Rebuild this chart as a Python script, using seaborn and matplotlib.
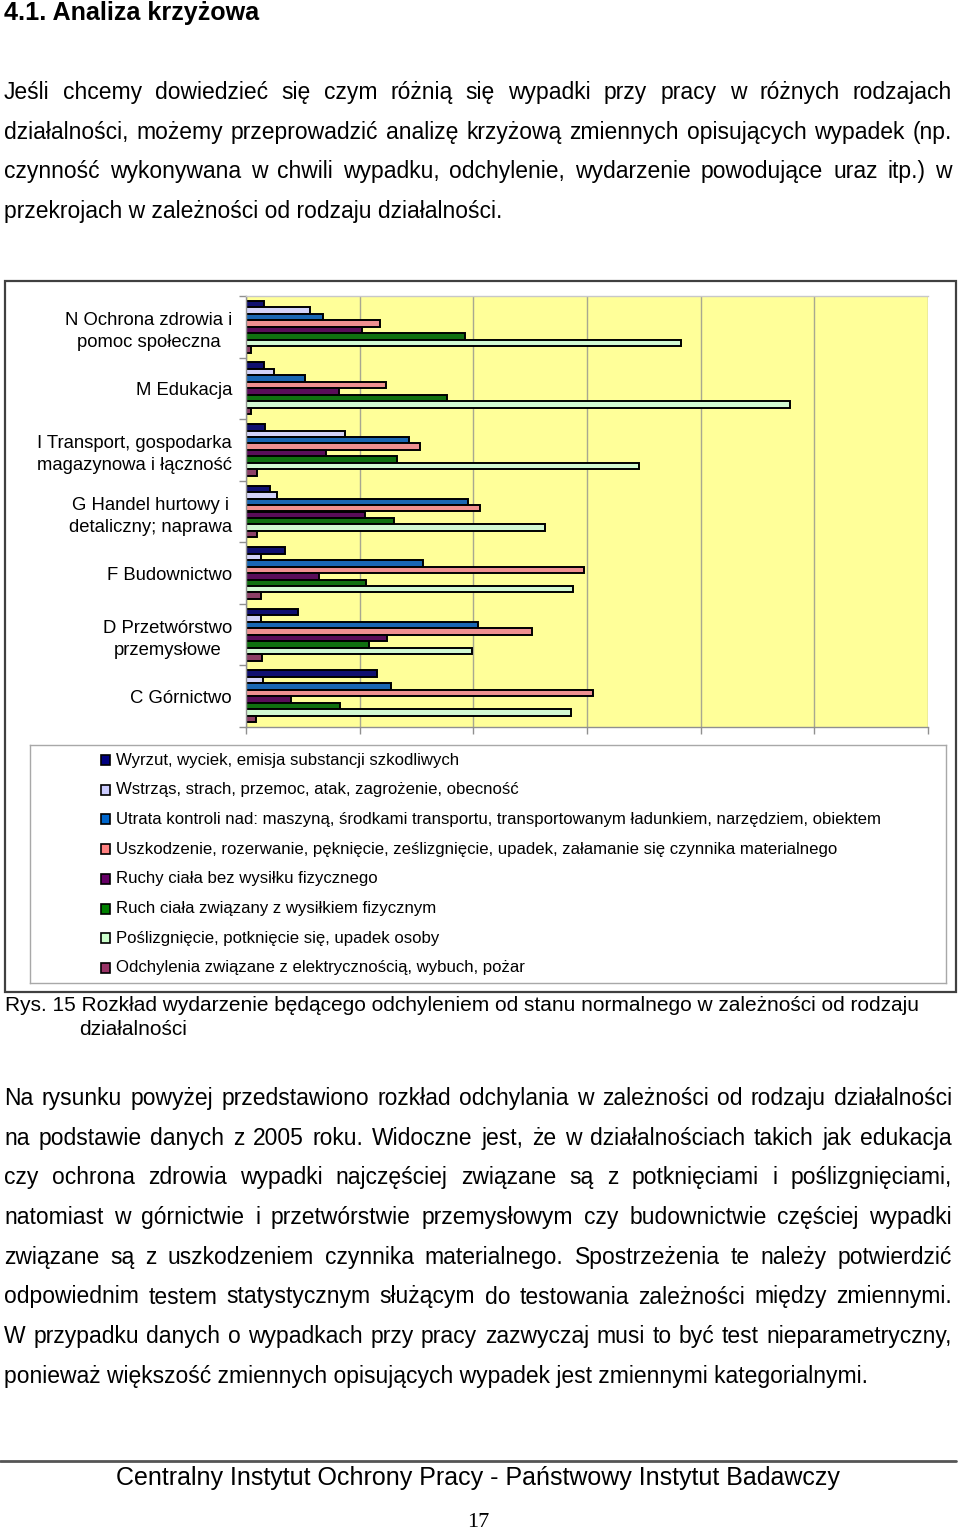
import matplotlib
matplotlib.use('Agg')
import matplotlib.pyplot as plt
from matplotlib.patches import Rectangle
from matplotlib.lines import Line2D
from matplotlib.ticker import FixedLocator, FuncFormatter
import pandas as pd
import seaborn as sns

# Data (percent of accidents per branch)
branches = [
    'N Ochrona zdrowia i\npomoc społeczna',
    'M Edukacja',
    'I Transport, gospodarka\nmagazynowa i łączność',
    'G Handel hurtowy i\ndetaliczny; naprawa',
    'F Budownictwo',
    'D Przetwórstwo\nprzemysłowe',
    'C Górnictwo',
]
series = [
    'Wyrzut, wyciek, emisja substancji szkodliwych',
    'Wstrząs, strach, przemoc, atak, zagrożenie, obecność',
    'Utrata kontroli nad: maszyną, środkami transportu, transportowanym ładunkiem, narzędziem, obiektem',
    'Uszkodzenie, rozerwanie, pęknięcie, ześlizgnięcie, upadek, załamanie się czynnika materialnego',
    'Ruchy ciała bez wysiłku fizycznego',
    'Ruch ciała związany z wysiłkiem fizycznym',
    'Poślizgnięcie, potknięcie się, upadek osoby',
    'Odchylenia związane z elektrycznością, wybuch, pożar',
]
wyrzut = [1.6, 1.6, 1.7, 2.1, 3.4, 4.6, 11.5]
wstrzas = [5.6, 2.5, 8.7, 2.7, 1.3, 1.3, 1.5]
utrata = [6.8, 5.2, 14.3, 19.5, 15.6, 20.4, 12.8]
uszkodzenie = [11.8, 12.3, 15.3, 20.6, 29.7, 25.2, 30.5]
ruchy = [10.2, 8.2, 7.0, 10.5, 6.4, 12.4, 4.0]
ruch_wysilek = [19.3, 17.7, 13.3, 13.0, 10.6, 10.8, 8.3]
poslizgniecie = [38.3, 47.9, 34.6, 26.3, 28.8, 19.9, 28.6]
elektr = [0.4, 0.4, 1.0, 1.0, 1.3, 1.4, 0.9]
x_ticks = [0, 10, 20, 30, 40, 50, 60]

colors = ['#000080', '#CCCCFF', '#0066CC', '#FF8080',
          '#660066', '#008000', '#CCFFCC', '#993366']

heading = '4.1. Analiza krzyżowa'
para1 = [
    'Jeśli chcemy dowiedzieć się czym różnią się wypadki przy pracy w różnych rodzajach',
    'działalności, możemy przeprowadzić analizę krzyżową zmiennych opisujących wypadek (np.',
    'czynność wykonywana w chwili wypadku, odchylenie, wydarzenie powodujące uraz itp.) w',
    'przekrojach w zależności od rodzaju działalności.',
]
para2 = [
    'Na rysunku powyżej przedstawiono rozkład odchylania w zależności od rodzaju działalności',
    'na podstawie danych z 2005 roku. Widoczne jest, że w działalnościach takich jak edukacja',
    'czy ochrona zdrowia wypadki najczęściej związane są z potknięciami i poślizgnięciami,',
    'natomiast w górnictwie i przetwórstwie przemysłowym czy budownictwie częściej wypadki',
    'związane są z uszkodzeniem czynnika materialnego. Spostrzeżenia te należy potwierdzić',
    'odpowiednim testem statystycznym służącym do testowania zależności między zmiennymi.',
    'W przypadku danych o wypadkach przy pracy zazwyczaj musi to być test nieparametryczny,',
    'ponieważ większość zmiennych opisujących wypadek jest zmiennymi kategorialnymi.',
]
caption1 = 'Rys. 15 Rozkład wydarzenie będącego odchyleniem od stanu normalnego w zależności od rodzaju'
caption2 = 'działalności'
footer = 'Centralny Instytut Ochrony Pracy - Państwowy Instytut Badawczy'
page_no = '17'

values = [wyrzut, wstrzas, utrata, uszkodzenie, ruchy, ruch_wysilek, poslizgniecie, elektr]
rows = []
for s, vals in zip(series, values):
    for b, v in zip(branches, vals):
        rows.append({'branch': b, 'series': s, 'value': v})
df = pd.DataFrame(rows)

sns.set_theme(style='white')
plt.rcParams['font.family'] = ['Liberation Sans', 'DejaVu Sans']
plt.rcParams['text.color'] = 'black'
plt.rcParams['xtick.color'] = 'black'
plt.rcParams['ytick.color'] = 'black'
plt.rcParams['axes.labelcolor'] = 'black'

W, H = 960, 1530
fig = plt.figure(figsize=(W / 100, H / 100), dpi=100)
fig.patch.set_facecolor('white')
renderer = fig.canvas.get_renderer()


def fy(y):
    return 1 - y / H


def fit_size(text, target, **kw):
    t = fig.text(0, 0, text, fontsize=10, **kw)
    w = t.get_window_extent(renderer).width
    t.remove()
    return 10 * target / w


def justify(line, y, x0, x1, size):
    words = line.split(' ')
    ts = [fig.text(0, fy(y), w, fontsize=size, va='baseline', color='black') for w in words]
    widths = [t.get_window_extent(renderer).width for t in ts]
    gap = (x1 - x0 - sum(widths)) / (len(words) - 1)
    x = x0
    for t, w in zip(ts, widths):
        t.set_x(x / W)
        x += w + gap


# ---- page text ----
hsize = fit_size(heading, 254, fontweight='bold')
fig.text(4 / W, fy(20), heading, fontsize=hsize, fontweight='bold', va='baseline')

body = fit_size(para2[-1], 867)
for i, line in enumerate(para1):
    y = 99 + i * 39.7
    if i < len(para1) - 1:
        justify(line, y, 4, 952, body)
    else:
        fig.text(4 / W, fy(y), line, fontsize=body, va='baseline')

for i, line in enumerate(para2):
    y = 1105 + i * 39.7
    if i < len(para2) - 1:
        justify(line, y, 4, 952, body)
    else:
        fig.text(4 / W, fy(y), line, fontsize=body, va='baseline')

csize = fit_size(caption1, 913)
fig.text(5 / W, fy(1011), caption1, fontsize=csize, va='baseline')
fig.text(79 / W, fy(1035), caption2, fontsize=csize, va='baseline')

fig.add_artist(Line2D([0, 956 / W], [fy(1461), fy(1461)], color='#555555', lw=2))
fsize = fit_size(footer, 725)
fig.text(478 / W, fy(1485), footer, fontsize=fsize, ha='center', va='baseline')
fig.text(478 / W, fy(1527), page_no, fontsize=16, ha='center', va='baseline',
         family='Liberation Serif')

# ---- chart frame ----
fig.add_artist(Rectangle((5 / W, fy(992)), 951 / W, 711 / H, transform=fig.transFigure,
                         fill=False, edgecolor='#404040', lw=1.6))

# ---- bar chart ----
ax = fig.add_axes([246 / W, fy(727), 682 / W, 431 / H])
ax.set_facecolor('#FFFF99')
sns.barplot(data=df, x='value', y='branch', hue='series', order=branches,
            hue_order=series, palette=colors, orient='h', width=0.84,
            edgecolor='black', linewidth=1.4, legend=False, ax=ax)
ax.set_xlim(0, 60)
ax.set_xticks(x_ticks)
ax.xaxis.set_major_formatter(FuncFormatter(lambda v, p: f'{v:.0f}%'))
ax.set_axisbelow(True)
ax.grid(axis='x', color='#A8A890', lw=1)
ax.grid(axis='y', visible=False)
ax.set_xlabel('')
ax.set_ylabel('')
for sp in ax.spines.values():
    sp.set_color('#909090')
    sp.set_linewidth(1)
ax.spines['right'].set_visible(False)
ax.spines['top'].set_color('#C8C8C8')

lab_size = fit_size('M Edukacja', 97)
ax.tick_params(axis='y', which='major', length=0, pad=10, labelsize=lab_size)
ax.tick_params(axis='x', which='major', length=5, width=1, color='#909090',
               direction='out', pad=11, labelsize=lab_size, bottom=True)
ax.yaxis.set_minor_locator(FixedLocator([i - 0.5 for i in range(len(branches) + 1)]))
ax.tick_params(axis='y', which='minor', length=5, width=1, color='#909090',
               direction='out', left=True)
for lbl in ax.get_yticklabels():
    lbl.set_multialignment('center')
    lbl.set_linespacing(1.4)

# ---- legend box (covers the x tick labels like in the original) ----
lax = fig.add_axes([30 / W, fy(983), 916 / W, 238 / H])
lax.set_facecolor('white')
lax.set_xlim(0, 916)
lax.set_ylim(238, 0)
lax.set_xticks([])
lax.set_yticks([])
for sp in lax.spines.values():
    sp.set_color('#A8A8A8')
    sp.set_linewidth(1)
leg_size = fit_size(series[2], 762)
for i, (s, c) in enumerate(zip(series, colors)):
    yc = 15 + i * 29.7
    lax.add_patch(Rectangle((71, yc - 5), 9, 10, facecolor=c, edgecolor='black', lw=1.2))
    lax.text(86, yc, s, fontsize=leg_size, va='center', ha='left')

fig.savefig('out.png', dpi=100, facecolor='white')
